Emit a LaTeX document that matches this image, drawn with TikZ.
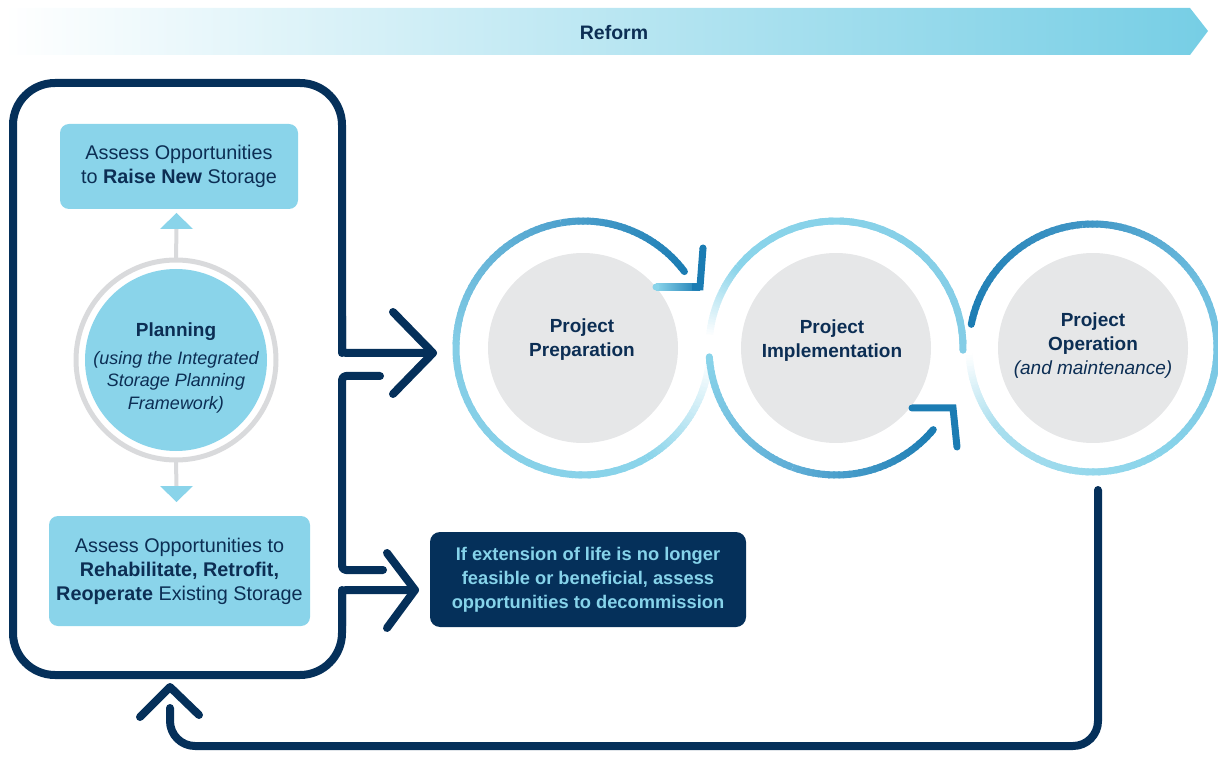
\documentclass[tikz,border=0pt]{standalone}
\usepackage{fontspec}
\setmainfont{Liberation Sans}
\definecolor{navy}{HTML}{05305A}
\definecolor{txt}{HTML}{0C2E54}
\definecolor{boxc}{HTML}{8AD4EA}
\definecolor{ringg}{HTML}{D9DADC}
\definecolor{diskg}{HTML}{E6E7E8}
\definecolor{dblue}{HTML}{1B7CB3}
\definecolor{mblue}{HTML}{4FA2CE}
\definecolor{m2blue}{HTML}{5FAED6}
\definecolor{tblue}{HTML}{3F95C5}
\definecolor{sblue}{HTML}{6FBEDF}
\definecolor{lcyan}{HTML}{84CDE6}
\definecolor{pcyan}{HTML}{A8DEEE}
\definecolor{bcyan}{HTML}{76CEE5}
\definecolor{dectxt}{HTML}{86D3EA}
\newcommand\garc[6]{%
  \foreach \k in {0,...,29}{%
    \pgfmathsetmacro\aa{#3+(#4-#3)*\k/30}%
    \pgfmathsetmacro\ab{#3+(#4-#3)*min(\k+1.4,30)/30}%
    \pgfmathtruncatemacro\pp{100-100*\k/29}%
    \draw[line width=7pt, color=#5!\pp!#6, shift={(#1)}] (\aa:#2) arc[start angle=\aa, end angle=\ab, radius=#2];
  }}
\newcommand\gcap[4]{\fill[#4, shift={(#1)}] (#3:#2) circle (3.5);}
\begin{document}
\begin{tikzpicture}[x=1pt,y=1pt,
  frame/.style={draw=navy, line width=8pt, line cap=round, line join=round},
  lbox/.style={fill=boxc, rounded corners=9pt, text=txt, align=center, inner sep=0pt},
  fnt/.style={font=\fontsize{19.8}{24}\selectfont},
  disk/.style={circle, fill=diskg, minimum size=190pt, inner sep=0pt},
  ptxt/.style={text=txt, align=center, font=\fontsize{19}{24}\selectfont\bfseries},
  gconn/.style={draw=ringg, line width=4pt}]
\useasboundingbox (0,0) rectangle (1218,756);
% banner
\shade[left color=white, right color=bcyan] (4,748) -- (1190,748) -- (1208,725) -- (1190,701) -- (4,701) -- cycle;
\node[text=txt, font=\fontsize{19.5}{24}\selectfont\bfseries] (reform) at (614,723) {Reform};
% frame
\coordinate (tip1) at (433,403);
\coordinate (tip2) at (415,166);
\draw[frame, rounded corners=42pt] (342,403) -- (342,673) -- (13,673) -- (13,81) -- (342,81) -- (342,166);
\draw[frame, rounded corners=4pt] (tip1) -- (342,403) -- (342,440);
\draw[frame, rounded corners=4pt] (tip2) -- (342,166) -- (342,130);
\draw[frame, rounded corners=4pt] (380,380) -- (342,380) -- (342,186) -- (383,186);
\draw[frame] (393,444) -- (tip1) -- (393,362);
\draw[frame] (387,203) -- (tip2) -- (387,128);
% left boxes
\node[lbox, fnt, minimum width=238pt, minimum height=85pt] (raise) at (179,589.5) {Assess Opportunities\\to \textbf{Raise New} Storage};
\node[lbox, fnt, minimum width=261pt, minimum height=110pt] (rehab) at (179.5,185) {Assess Opportunities to\\\textbf{Rehabilitate, Retrofit,}\\\textbf{Reoperate} Existing Storage};
% planning
\draw[ringg, line width=5pt] (176,396) circle (100);
\node[circle, fill=boxc, minimum size=182pt, inner sep=0pt] (plan) at (176,396) {};
\node[text=txt, font=\fontsize{19}{24}\selectfont\bfseries] (plantitle) at (176,424) {Planning};
\node[text=txt, align=center, font=\fontsize{18}{22.5}\selectfont\itshape] (plansub) at (176,374) {(using the Integrated\\Storage Planning\\Framework)};
\coordinate (upbase) at (176.5,527);
\coordinate (dnbase) at (176.5,270);
\draw[gconn] ([yshift=11pt]plan.north) -- (upbase);
\fill[boxc] (160,527) -- (193,527) -- (176.5,543) -- cycle;
\draw[gconn] ([yshift=-11pt]plan.south) -- (dnbase);
\fill[boxc] (160,270) -- (193,270) -- (176.5,254) -- cycle;
% decommission
\node[fill=navy, rounded corners=10pt, minimum width=316pt, minimum height=95pt, text=dectxt, align=center, inner sep=0pt, font=\fontsize{18.3}{24}\selectfont\bfseries] (decom) at (588,176.5) {If extension of life is no longer\\feasible or beneficial, assess\\opportunities to decommission};
% disks
\node[disk] (prep) at (583,408) {};
\node[disk] (impl) at (836,408) {};
\node[disk] (oper) at (1093,408) {};
\node[ptxt] (preptext) at (582,416) {Project\\Preparation};
\node[ptxt] (impltext) at (832,415) {Project\\Implementation};
\node[text=txt, align=center, font=\fontsize{19}{24}\selectfont] (opertext) at (1093,410) {\textbf{Project}\\\textbf{Operation}\\\textit{(and maintenance)}};
% ring 1
\garc{prep}{127}{37}{100}{dblue}{mblue}
\garc{prep}{127}{100}{180}{mblue}{lcyan}
\garc{prep}{127}{180}{300}{lcyan}{boxc}
\garc{prep}{127}{300}{355}{boxc}{white}
\gcap{prep}{127}{37}{dblue}
\shade[left color=boxc, right color=dblue] (656,465.5) rectangle (700,472.5);
\fill[boxc] (656,469) circle (3.5);
\draw[dblue, line width=7pt, line join=miter] (692,469) -- (700,469) -- (703,508);
\fill[dblue] (703,508) circle (3.5);
% ring 3
\garc{oper}{124}{169}{95}{dblue}{tblue}
\garc{oper}{124}{95}{30}{tblue}{sblue}
\garc{oper}{124}{30}{-60}{sblue}{boxc}
\garc{oper}{124}{-60}{-140}{boxc}{pcyan}
\garc{oper}{124}{-140}{-178}{pcyan}{white}
\gcap{oper}{124}{169}{dblue}
% ring 2
\garc{impl}{127}{175}{140}{white}{boxc}
\garc{impl}{127}{140}{-1}{boxc}{lcyan}
\gcap{impl}{127}{-1}{lcyan}
\garc{impl}{127}{184}{250}{boxc}{m2blue}
\garc{impl}{127}{250}{320}{m2blue}{dblue}
\gcap{impl}{127}{184}{boxc}
\gcap{impl}{127}{320}{dblue}
\draw[dblue, line width=7pt, line cap=round, line join=miter] (912,348) -- (953,348) -- (957,309);
% return loop
\coordinate (loopstart) at (1098,266);
\coordinate (looptip) at (170,69);
\draw[frame, rounded corners=25pt] (loopstart) -- (1098,10) -- (170,10) -- (170,48);
\draw[frame] (140,39) -- (looptip) -- (199,41);
\end{tikzpicture}
\end{document}
